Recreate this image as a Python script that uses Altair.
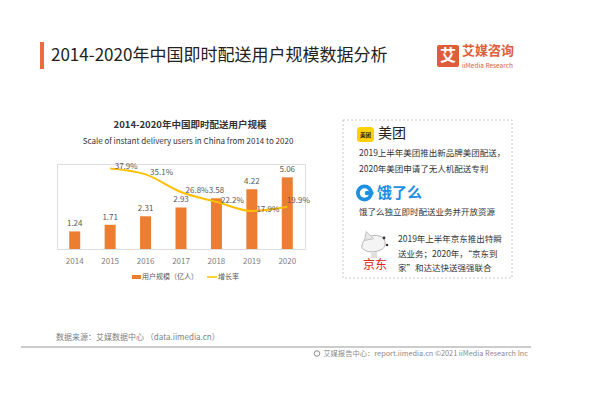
import altair as alt
import pandas as pd

# ---------------- data ----------------
years = ["2014", "2015", "2016", "2017", "2018", "2019", "2020"]
users = [1.24, 1.71, 2.31, 2.93, 3.58, 4.22, 5.06]
growth = [None, 0.379, 0.351, 0.268, 0.222, 0.179, 0.199]

left_ticks = [0, 2, 4, 6]
right_ticks = [0, 0.1, 0.2, 0.3, 0.4]

main_title = "2014-2020年中国即时配送用户规模数据分析"
chart_title = "2014-2020年中国即时配送用户规模"
chart_subtitle = "Scale of instant delivery users in China from 2014 to 2020"
legend_bar = "用户规模（亿人）"
legend_line = "增长率"
source_text = "数据来源：艾媒数据中心 （data.iimedia.cn）"
footer_text = "艾媒报告中心：report.iimedia.cn  ©2021  iiMedia Research Inc"
meituan_lines = ["2019上半年美团推出新品牌美团配送，", "2020年美团申请了无人机配送专利"]
eleme_line = "饿了么独立即时配送业务并开放资源"
jd_lines = ["2019年上半年京东推出特瞬", "送业务；2020年，“京东到", "家”和达达快送强强联合"]

df = pd.DataFrame({"year": years, "users": users, "growth": growth})

FONT = "Noto Sans CJK SC"
BAR = "#ED7D31"
LINE = "#FFC000"
LBL = "#595959"
AXL = "#808080"

x_enc = alt.X(
    "year:O",
    scale=alt.Scale(paddingInner=0, paddingOuter=0),
    axis=alt.Axis(title=None, labelAngle=0, domain=False, ticks=False,
                  labelPadding=8, labelFontSize=8, labelColor=AXL, labelFont=FONT),
)

bars = alt.Chart(df).mark_bar(size=11, color=BAR).encode(
    x=x_enc,
    y=alt.Y("users:Q", scale=alt.Scale(domain=[0, 6]),
            axis=alt.Axis(title=None, values=left_ticks, domain=False, ticks=False,
                          grid=True, gridColor="#e6e6e6", labelPadding=6,
                          labelFontSize=8, labelColor=AXL, labelFont=FONT)),
)
bar_labels = alt.Chart(df).mark_text(baseline="bottom", dy=-3, fontSize=8,
                                     color=LBL, font=FONT).encode(
    x=x_enc,
    y=alt.Y("users:Q", scale=alt.Scale(domain=[0, 6]), axis=None),
    text=alt.Text("users:Q", format=".2f"),
)
bar_layer = alt.layer(bars, bar_labels)

gdf = alt.Chart(df).transform_filter("isValid(datum.growth)")
y_right = alt.Y("growth:Q", scale=alt.Scale(domain=[0, 0.4]),
                axis=alt.Axis(title=None, orient="right", values=right_ticks, format=".0%",
                              domain=False, ticks=False, grid=False, labelPadding=8,
                              labelFontSize=8, labelColor=AXL, labelFont=FONT))
line = gdf.mark_line(color=LINE, strokeWidth=2, interpolate="monotone").encode(
    x=x_enc, y=y_right)
y_right_noaxis = alt.Y("growth:Q", scale=alt.Scale(domain=[0, 0.4]), axis=None)
line_labels = gdf.transform_filter("datum.year != '2020'").mark_text(
    dx=16, dy=-1, fontSize=8, color=LBL, font=FONT).encode(
    x=x_enc, y=y_right_noaxis, text=alt.Text("growth:Q", format=".1%"))
line_label_last = gdf.transform_filter("datum.year == '2020'").mark_text(
    dx=11, dy=-6, fontSize=8, color=LBL, font=FONT).encode(
    x=x_enc, y=y_right_noaxis, text=alt.Text("growth:Q", format=".1%"))
line_layer = alt.layer(line, line_labels, line_label_last)

# ---------------- decorations (pixel positions relative to plot origin) ----------------
one = pd.DataFrame({"k": [0]})


def txt(s, x, y, size, color, align="left", weight="normal", baseline="middle"):
    return alt.Chart(one).mark_text(text=s, align=align, baseline=baseline, fontSize=size,
                                    color=color, fontWeight=weight, font=FONT).encode(
        x=alt.value(x), y=alt.value(y))


def rect(x1, x2, y1, y2, **kw):
    return alt.Chart(one).mark_rect(**kw).encode(
        x=alt.value(x1), x2=alt.value(x2), y=alt.value(y1), y2=alt.value(y2))


def pt(x, y, **kw):
    return alt.Chart(one).mark_point(**kw).encode(x=alt.value(x), y=alt.value(y))


deco = [
    # header
    rect(-17, -13, -122, -95, color="#EE6A3F"),
    txt(main_title, -6, -108, 17, "#222222"),
    # logo
    rect(380, 402, -119, -97, color="#DE5E3A", cornerRadius=2),
    txt("艾", 391, -108, 16, "white", align="center", weight="bold"),
    txt("艾媒咨询", 405, -113, 13, "#DE5E3A", weight="bold", baseline="middle"),
    txt("iiMedia Research", 405, -98.5, 6.5, "#DE5E3A"),
    # chart titles
    txt(chart_title, 133, -39, 9.5, "#333333", align="center", weight="bold"),
    txt(chart_subtitle, 131, -22, 8, "#333333", align="center"),
    # legend
    rect(75, 84, 111, 115, color=BAR),
    txt(legend_bar, 85, 113, 7, LBL),
    alt.Chart(one).mark_rule(color=LINE, strokeWidth=1.5).encode(
        x=alt.value(150), x2=alt.value(160), y=alt.value(113)),
    txt(legend_line, 161, 113, 7, LBL),
    # right box
    rect(286, 455, -44, 114, fill="white", stroke="#c8c8c8", strokeDash=[2, 2], strokeWidth=1),
    rect(300, 317, -37, -22, color="#FFD100", cornerRadius=3),
    txt("美团", 308.5, -29.5, 5.5, "#222222", align="center", weight="bold"),
    txt("美团", 321, -30, 14, "#222222"),
    txt(meituan_lines[0], 302, -11, 8.5, "#333333"),
    txt(meituan_lines[1], 302, 5, 8.5, "#333333"),
    pt(307.5, 29, shape="circle", filled=True, size=289, color="#1E8FE1", opacity=1),
    pt(307.5, 29, shape="circle", filled=True, size=90, color="white", opacity=1),
    pt(310, 29, shape="circle", filled=True, size=20, color="#1E8FE1", opacity=1),
    rect(311, 316.5, 27.5, 30.5, color="#1E8FE1"),
    txt("饿了么", 320, 29, 15, "#1E8FE1", weight="bold"),
    txt(eleme_line, 302, 48, 8.5, "#333333"),
    # JD mascot (simple)
    pt(317, 80, shape="M-1,0.3 C-1,-0.5 -0.2,-0.9 0.6,-0.6 C1,-0.4 1,0.2 0.7,0.4 C0.2,0.7 -0.6,0.8 -1,0.3 Z",
       filled=True, size=600, fill="#f4f4f4", stroke="#b5b5b5", strokeWidth=1, opacity=1),
    pt(312, 72, shape="M-1,1 L-0.6,-1 L1,0.6 Z", filled=True, size=80, fill="#e8e8e8",
       stroke="#b5b5b5", strokeWidth=0.8, opacity=1),
    pt(327, 74, shape="circle", filled=True, size=8, color="#333333", opacity=1),
    pt(330, 81, shape="circle", filled=True, size=6, color="#333333", opacity=1),
    rect(314, 320, 88, 94, color="#e0e0e0"),
    txt("京东", 318, 101, 12, "#E1251B", align="center"),
    txt(jd_lines[0], 341, 75, 8.5, "#333333"),
    txt(jd_lines[1], 341, 90, 8.5, "#333333"),
    txt(jd_lines[2], 341, 104, 8.5, "#333333"),
    # footer
    txt(source_text, -1, 174, 8, "#7f7f7f"),
    alt.Chart(one).mark_rule(color="#9a9a9a", strokeWidth=1.2).encode(
        x=alt.value(-36), x2=alt.value(474), y=alt.value(183)),
    pt(260, 189.5, shape="circle", filled=False, size=30, color="#8a8a8a", strokeWidth=1, opacity=1),
    txt(footer_text, 471, 189.5, 7.3, "#8a8a8a", align="right"),
]

chart = alt.layer(bar_layer, line_layer, *deco).resolve_scale(y="independent").properties(
    width=248, height=85,
    padding={"left": 49, "top": 156, "right": 277, "bottom": 141},
    autosize=alt.AutoSizeParams(type="none"),
    background="white",
).configure_view(stroke=None).configure(font=FONT)

chart.save("out.html", embed_options={"renderer": "svg", "actions": False})
